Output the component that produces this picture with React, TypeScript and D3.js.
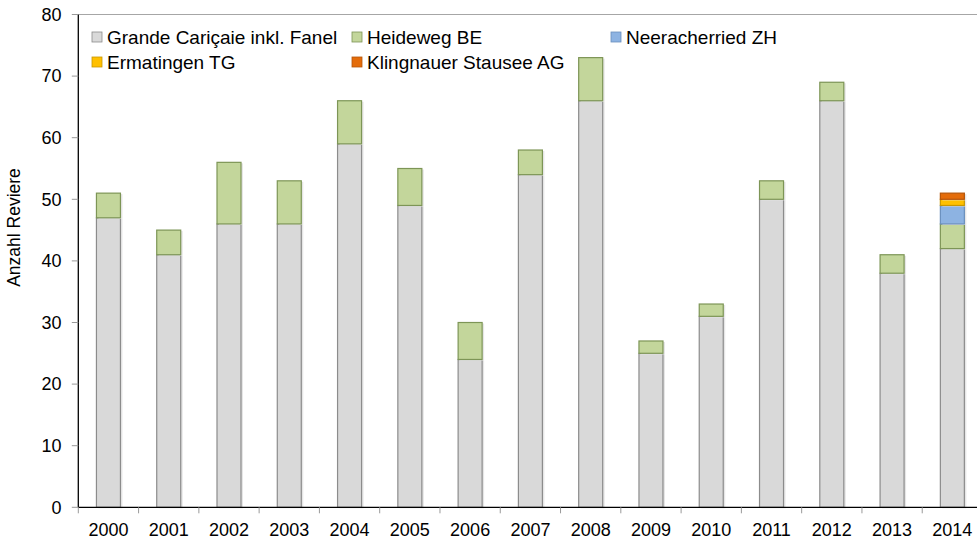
import React from 'react';
import * as d3 from 'd3';

const years = ['2000', '2001', '2002', '2003', '2004', '2005', '2006', '2007', '2008', '2009', '2010', '2011', '2012', '2013', '2014'];
const grande = [47, 41, 46, 46, 59, 49, 24, 54, 66, 25, 31, 50, 66, 38, 42];
const heideweg = [4, 4, 10, 7, 7, 6, 6, 4, 7, 2, 2, 3, 3, 3, 4];
const neeracherried = [0, 0, 0, 0, 0, 0, 0, 0, 0, 0, 0, 0, 0, 0, 3];
const ermatingen = [0, 0, 0, 0, 0, 0, 0, 0, 0, 0, 0, 0, 0, 0, 1];
const klingnauer = [0, 0, 0, 0, 0, 0, 0, 0, 0, 0, 0, 0, 0, 0, 1];
const yTicks = [0, 10, 20, 30, 40, 50, 60, 70, 80];

const series = [
  { name: 'Grande Cariçaie inkl. Fanel', values: grande, fill: '#d9d9d9', stroke: '#8c8c8c' },
  { name: 'Heideweg BE', values: heideweg, fill: '#c3d69b', stroke: '#7d9556' },
  { name: 'Neeracherried ZH', values: neeracherried, fill: '#8db3e2', stroke: '#6a8fbd' },
  { name: 'Ermatingen TG', values: ermatingen, fill: '#ffc000', stroke: '#c99700' },
  { name: 'Klingnauer Stausee AG', values: klingnauer, fill: '#e46c0a', stroke: '#b55508' },
];

// legend layout: two rows, three columns
const legendPos = [
  [92, 37], [352, 37], [611, 37],
  [92, 62], [352, 62],
];

const App = () => {
  const left = 78.3, right = 982.5, top = 14.5, bottom = 507.3;
  const font = 'Arial, "Liberation Sans", sans-serif';

  const x = d3.scaleBand().domain(years).range([left, right]).paddingInner(0).paddingOuter(0);
  const y = d3.scaleLinear().domain([0, 80]).range([bottom, top]);
  const bw = 24;

  const stacked = d3.stack<number>()
    .keys(series.map((_, i) => String(i)))
    .value((idx, key) => series[+key].values[idx])(years.map((_, i) => i));

  return (
    <svg width={977} height={540} style={{ position: 'absolute', left: 0, top: 0, background: '#fff' }} fontFamily={font}>
      {/* top border */}
      <line x1={left} x2={977} y1={top} y2={top} stroke="#a6a6a6" strokeWidth={1} />

      {/* bars */}
      {stacked.map((layer, si) => (
        <g key={si}>
          {layer.map((d, i) => {
            if (d[1] - d[0] <= 0) return null;
            const cx = x(years[i])! + x.bandwidth() / 2;
            const y0 = y(d[0]), y1 = y(d[1]);
            return (
              <g key={i}>
                <rect x={cx - bw / 2 + 2} y={y1 + 1} width={bw} height={y0 - y1} fill="#e6e6e6" />
                <rect x={cx - bw / 2} y={y1} width={bw} height={y0 - y1}
                  fill={series[si].fill} stroke={series[si].stroke} strokeWidth={1.2} />
              </g>
            );
          })}
        </g>
      ))}

      {/* y axis */}
      <line x1={left} x2={left} y1={top} y2={bottom} stroke="#000" strokeWidth={1.3} />
      {yTicks.map(t => (
        <g key={t}>
          <line x1={left - 6.5} x2={left} y1={y(t)} y2={y(t)} stroke="#999" />
          <text x={61.5} y={y(t)} dy="0.35em" textAnchor="end" fontSize={18} fill="#000">{t}</text>
        </g>
      ))}

      {/* x axis */}
      <line x1={left} x2={977} y1={bottom} y2={bottom} stroke="#000" strokeWidth={1.3} />
      {years.map((yr) => (
        <g key={yr}>
          <line x1={x(yr)!} x2={x(yr)!} y1={bottom} y2={bottom + 6} stroke="#999" />
          <text x={x(yr)! + x.bandwidth() / 2} y={536} textAnchor="middle" fontSize={18} fill="#000">{yr}</text>
        </g>
      ))}

      {/* y label */}
      <text transform="translate(19.5, 227.5) rotate(-90)" textAnchor="middle" fontSize={17.5} fill="#000">Anzahl Reviere</text>

      {/* legend */}
      {series.map((s, i) => (
        <g key={s.name} transform={`translate(${legendPos[i][0]}, ${legendPos[i][1]})`}>
          <rect x={0} y={-5} width={10} height={10} fill={s.fill} stroke={s.stroke} strokeWidth={0.8} />
          <text x={15} y={0} dy="0.36em" fontSize={19} fill="#000">{s.name}</text>
        </g>
      ))}
    </svg>
  );
};

export default App;
